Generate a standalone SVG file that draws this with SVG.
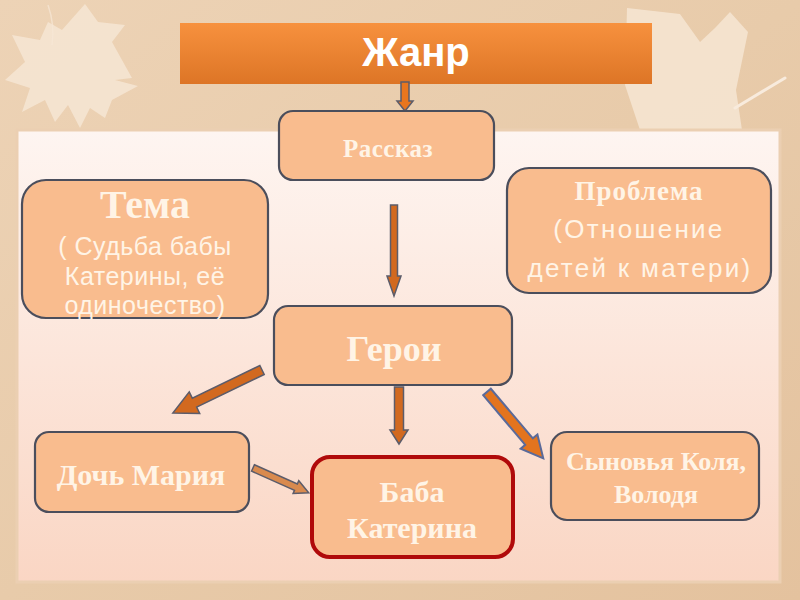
<svg xmlns="http://www.w3.org/2000/svg" width="800" height="600" viewBox="0 0 800 600">
<defs>
<linearGradient id="bg" x1="0" y1="0" x2="1" y2="1">
<stop offset="0" stop-color="#EDD3B6"/><stop offset="0.5" stop-color="#E8CBAA"/><stop offset="1" stop-color="#E4C29E"/>
</linearGradient>
<linearGradient id="panel" x1="0" y1="0" x2="0" y2="1">
<stop offset="0" stop-color="#FEF5F1"/><stop offset="1" stop-color="#FAD6C4"/>
</linearGradient>
<linearGradient id="hdr" x1="0" y1="0" x2="0" y2="1">
<stop offset="0" stop-color="#F7913E"/><stop offset="1" stop-color="#DD7526"/>
</linearGradient>
<style>
.box{fill:#F9BC8E;stroke:#4B4E5C;stroke-width:2.2}
.red{fill:#F9BC8E;stroke:#B00A0A;stroke-width:4}
.ser{font-family:"Liberation Serif","Times New Roman",serif;font-weight:bold;fill:#FFF4E6;text-anchor:middle}
.san{font-family:"Liberation Sans",Arial,sans-serif;fill:#FFF4E6;text-anchor:middle}
.arr{fill:#D2691F;stroke:#5C5C6A;stroke-width:1.5;stroke-linejoin:miter}
.leaf{fill:#F6E7D6;opacity:0.8}
</style>
</defs>
<rect width="800" height="600" fill="url(#bg)"/>
<g id="leaves">
<path class="leaf" d="M85,4 L98,22 L125,25 L112,42 L132,78 L115,80 L138,86 L112,100 L105,118 L90,108 L80,128 L68,105 L55,122 L45,100 L22,112 L30,88 L5,80 L25,62 L12,35 L40,40 L48,22 L62,30 Z"/>
<path d="M48,5 Q55,25 52,45" fill="none" stroke="#F6E7D6" stroke-width="1.5" opacity="0.7"/>
<path class="leaf" d="M627,8 L680,14 L700,42 L715,28 L730,12 L748,32 L736,90 L742,130 L640,130 L625,85 Z"/>
<path d="M735,108 L785,78" fill="none" stroke="#F8EBDD" stroke-width="3" stroke-linecap="round"/>
</g>
<rect x="17" y="130" width="763" height="452" fill="url(#panel)" stroke="#EBCFB2" stroke-width="3"/>
<g id="header">
<rect x="180" y="23" width="472" height="61" fill="url(#hdr)"/>
<text x="416" y="66" font-family="Liberation Sans,Arial,sans-serif" font-weight="bold" font-size="40" fill="#FFFFFF" text-anchor="middle">Жанр</text>
</g>
<g id="connectors">
<polygon class="arr" style="fill:#E8761E" transform="translate(405,82) rotate(90)" points="0,-4 19,-4 19,-8 29,0 19,8 19,4 0,4"/>
<polygon class="arr" transform="translate(394,205) rotate(90)" points="0,-3.5 71,-3.5 71,-7 91,0 71,7 71,3.5 0,3.5"/>
<polygon class="arr" transform="translate(262,370) rotate(154.2)" points="0,-5 75,-5 75,-12 99,0 75,12 75,5 0,5"/>
<polygon class="arr" transform="translate(399,387) rotate(90)" points="0,-4.5 43,-4.5 43,-9 57,0 43,9 43,4.5 0,4.5"/>
<polygon class="arr" style="fill:#E3741E;stroke:#5A6A9A;stroke-width:2" transform="translate(487,392) rotate(49.7)" points="0,-5 65,-5 65,-11 87,0 65,11 65,5 0,5"/>
<polygon class="arr" style="fill:#D98A4E" transform="translate(253,468) rotate(24)" points="0,-3.5 47,-3.5 47,-7 61,0 47,7 47,3.5 0,3.5"/>
</g>
<g id="rasskaz">
<rect class="box" x="279" y="111" width="215" height="69" rx="14"/>
<text class="ser" x="388" y="157" font-size="25" letter-spacing="0.5">Рассказ</text>
</g>
<g id="tema">
<rect class="box" x="22" y="180" width="246" height="138" rx="24"/>
<text class="ser" x="145" y="218" font-size="40">Тема</text>
<text class="san" x="145" y="255" font-size="25" letter-spacing="0.5">( Судьба бабы</text>
<text class="san" x="145" y="285" font-size="25" letter-spacing="0.5">Катерины, её</text>
<text class="san" x="145" y="314" font-size="25" letter-spacing="0.5">одиночество)</text>
</g>
<g id="problema">
<rect class="box" x="507" y="168" width="264" height="125" rx="22"/>
<text class="ser" x="639" y="200" font-size="27" letter-spacing="1">Проблема</text>
<text class="san" x="639" y="238" font-size="26" letter-spacing="2.3">(Отношение</text>
<text class="san" x="640" y="277" font-size="26" letter-spacing="2.3">детей к матери)</text>
</g>
<g id="geroi">
<rect class="box" x="274" y="306" width="238" height="79" rx="14"/>
<text class="ser" x="394" y="361" font-size="36">Герои</text>
</g>
<g id="doch">
<rect class="box" x="35" y="432" width="214" height="80" rx="14"/>
<text class="ser" x="141" y="485" font-size="30">Дочь Мария</text>
</g>
<g id="baba">
<rect class="red" x="312" y="457" width="201" height="100" rx="18"/>
<text class="ser" x="412" y="502" font-size="30">Баба</text>
<text class="ser" x="412" y="538" font-size="30">Катерина</text>
</g>
<g id="synovya">
<rect class="box" x="551" y="432" width="208" height="88" rx="16"/>
<text class="ser" x="656" y="470" font-size="26">Сыновья Коля,</text>
<text class="ser" x="656" y="503" font-size="26">Володя</text>
</g>
</svg>
